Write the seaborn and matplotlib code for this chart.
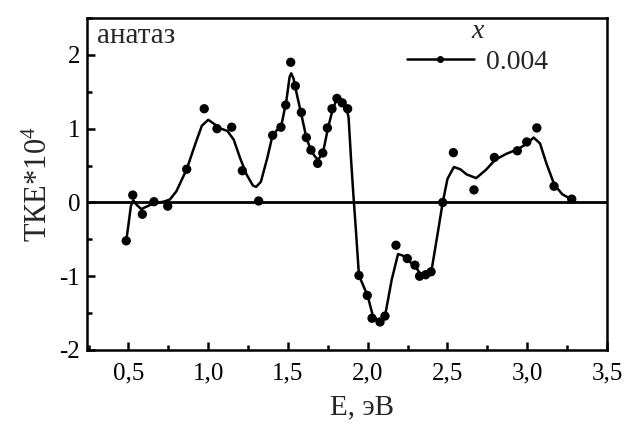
import matplotlib
matplotlib.use("Agg")
import matplotlib.pyplot as plt
from matplotlib.lines import Line2D
from matplotlib.ticker import MultipleLocator, FuncFormatter
import seaborn as sns
import pandas as pd

# measured points (E, eV ; TKE*10^4)
point_e = [0.486, 0.527, 0.587, 0.66, 0.746, 0.865, 0.975, 1.055, 1.147, 1.214,
           1.316, 1.404, 1.456, 1.486, 1.517, 1.546, 1.584, 1.615, 1.644, 1.686,
           1.718, 1.747, 1.776, 1.807, 1.84, 1.874, 1.945, 1.997, 2.027, 2.077,
           2.108, 2.177, 2.248, 2.296, 2.325, 2.363, 2.397, 2.47, 2.537, 2.666,
           2.794, 2.938, 2.997, 3.06, 3.168, 3.279]
point_tke = [-0.52, 0.10, -0.16, 0.01, -0.05, 0.45, 1.27, 1.00, 1.02, 0.43,
             0.02, 0.91, 1.02, 1.32, 1.90, 1.58, 1.22, 0.88, 0.71, 0.53,
             0.67, 1.01, 1.27, 1.41, 1.35, 1.27, -0.99, -1.26, -1.57, -1.62,
             -1.54, -0.58, -0.76, -0.85, -1.00, -0.98, -0.94, 0.00, 0.675, 0.17,
             0.61, 0.70, 0.82, 1.01, 0.22, 0.045]

# smoothed curve
curve_e = [0.486, 0.50, 0.515, 0.53, 0.55, 0.58, 0.62, 0.66, 0.72, 0.76,
           0.80, 0.865, 0.92, 0.96, 1.00, 1.04, 1.08, 1.12, 1.16, 1.20,
           1.24, 1.28, 1.30, 1.33, 1.37, 1.40, 1.43, 1.46, 1.49, 1.51,
           1.52, 1.535, 1.55, 1.585, 1.615, 1.645, 1.67, 1.69, 1.72, 1.75,
           1.78, 1.81, 1.84, 1.87, 1.88, 1.895, 1.91, 1.925, 1.945, 2.00,
           2.03, 2.07, 2.11, 2.15, 2.19, 2.22, 2.25, 2.30, 2.33, 2.36,
           2.40, 2.44, 2.47, 2.50, 2.54, 2.58, 2.62, 2.68, 2.74, 2.80,
           2.87, 2.94, 3.00, 3.04, 3.08, 3.12, 3.17, 3.22, 3.28]
curve_tke = [-0.52, -0.30, -0.05, 0.03, -0.03, -0.09, -0.05, -0.01, 0.01, 0.04,
             0.15, 0.45, 0.80, 1.04, 1.12, 1.06, 1.00, 0.97, 0.85, 0.60,
             0.38, 0.23, 0.21, 0.28, 0.60, 0.88, 0.98, 1.06, 1.38, 1.70,
             1.75, 1.68, 1.52, 1.18, 0.88, 0.70, 0.62, 0.58, 0.68, 1.00,
             1.26, 1.42, 1.36, 1.25, 1.15, 0.60, 0.10, -0.35, -0.99, -1.27,
             -1.52, -1.62, -1.52, -1.05, -0.70, -0.72, -0.78, -0.87, -0.97, -0.97,
             -0.92, -0.40, 0.00, 0.32, 0.48, 0.45, 0.38, 0.33, 0.44, 0.58,
             0.66, 0.72, 0.80, 0.88, 0.80, 0.53, 0.24, 0.11, 0.04]

series_label = "0.004"
legend_title = "x"
sample_label = "анатаз"
x_label = "E, эВ"
y_label = "ТКЕ*10$^4$"

sns.set_theme(style="white")
plt.rcParams["font.family"] = ["Liberation Serif", "DejaVu Serif"]
plt.rcParams["mathtext.fontset"] = "custom"
plt.rcParams["mathtext.rm"] = "Liberation Serif"
plt.rcParams["mathtext.it"] = "Liberation Serif:italic"

fig = plt.figure(figsize=(6.27, 4.23), dpi=100)
ax = fig.add_axes([87 / 627, 1 - 350 / 423, 520 / 627, 332 / 423])

pts = pd.DataFrame({"E": point_e, "TKE": point_tke})
crv = pd.DataFrame({"E": curve_e, "TKE": curve_tke})

ax.axhline(0, color="black", lw=2.0, zorder=1)
sns.lineplot(data=crv, x="E", y="TKE", sort=False, color="black", lw=1.8,
             ax=ax, zorder=2)
sns.scatterplot(data=pts, x="E", y="TKE", color="black", s=45,
                edgecolor="none", ax=ax, zorder=3)

ax.set_xlim(0.24, 3.5)
ax.set_ylim(-2, 2.5)
ax.xaxis.set_major_locator(MultipleLocator(0.5))
ax.xaxis.set_minor_locator(MultipleLocator(0.25))
ax.yaxis.set_major_locator(MultipleLocator(1))
ax.yaxis.set_minor_locator(MultipleLocator(0.5))
ax.xaxis.set_major_formatter(FuncFormatter(lambda v, p: f"{v:.1f}".replace(".", ",")))
ax.yaxis.set_major_formatter(FuncFormatter(lambda v, p: f"{v:.0f}"))

ax.tick_params(which="both", direction="in", top=False, right=False,
               bottom=True, left=True, width=1.8, colors="black")
ax.tick_params(which="major", length=6, labelsize=18)
ax.tick_params(axis="x", which="major", pad=9)
ax.tick_params(axis="y", which="major", pad=5)
ax.tick_params(which="minor", length=3.5)
for s in ax.spines.values():
    s.set_linewidth(1.8)
    s.set_color("black")

ax.set_xlabel(x_label, fontsize=21)
ax.xaxis.set_label_coords((362 - 87) / 520, -0.135)
ax.set_ylabel(y_label, fontsize=22, labelpad=4)

ax.text(0.02, 0.985, sample_label, transform=ax.transAxes, fontsize=21,
        ha="left", va="top")

handle = Line2D([], [], color="black", lw=1.8, marker="o", markersize=4)
leg = ax.legend([handle], [series_label], title=legend_title, loc="upper right",
                bbox_to_anchor=(0.919, 1.048), frameon=False, fontsize=20,
                title_fontsize=20, handlelength=2.4, handletextpad=0.45,
                borderaxespad=0.2, labelspacing=0.2)
leg.get_title().set_fontstyle("italic")

fig.savefig("out.png", dpi=100)
